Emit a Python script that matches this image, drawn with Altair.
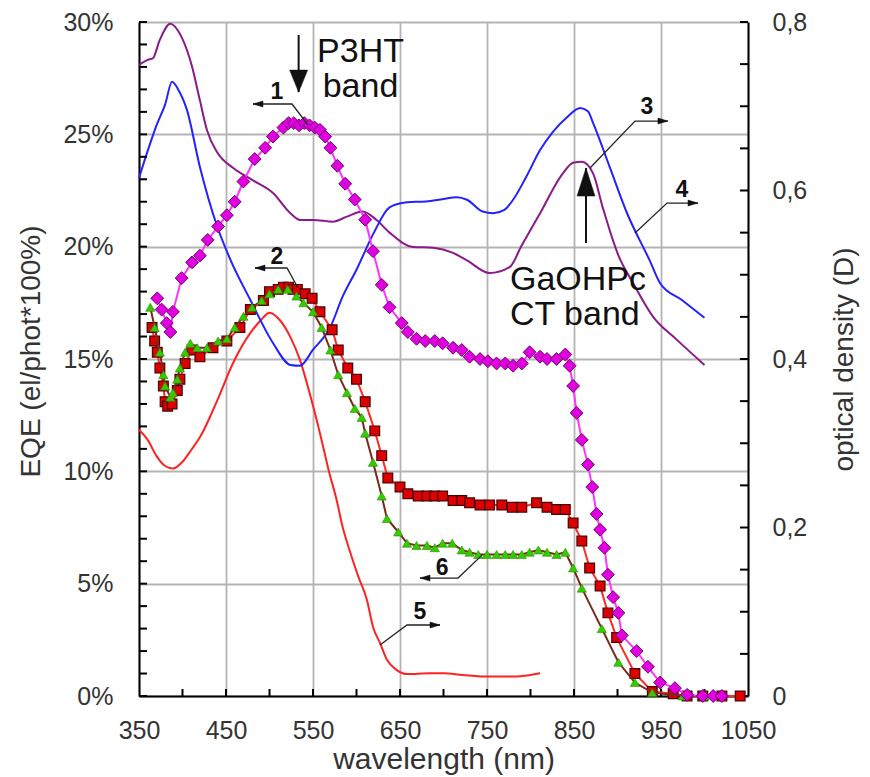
import altair as alt
import pandas as pd

# ---------------- data ----------------
# curve 1: magenta diamonds, EQE (%)
c1_nm = [371, 376, 382, 386, 389, 399, 411, 420, 429, 441, 451, 460, 470, 483, 495, 504, 516,
         522, 528, 534, 540, 546, 552, 558, 564, 570, 578, 587, 598, 610, 619, 629, 638, 652, 659,
         669, 679, 690, 699, 711, 721, 730, 742, 751, 761, 771, 780, 790, 799, 811, 819, 830, 840,
         845, 849, 853, 859, 866, 871, 876, 880, 885, 889, 895, 901, 905, 922, 935, 949, 966, 980,
         998, 1010, 1020]
c1_eqe = [17.7, 17.2, 16.6, 16.2, 17.1, 18.6, 19.3, 19.6, 20.3, 20.9, 21.4, 22.0, 22.9, 23.9, 24.4,
          24.9, 25.3, 25.5, 25.5, 25.4, 25.5, 25.4, 25.3, 25.2, 24.9, 24.4, 23.6, 22.8, 22.1, 21.2,
          19.8, 18.3, 17.3, 16.6, 16.2, 15.9, 15.8, 15.8, 15.7, 15.5, 15.4, 15.1, 15.0, 14.9, 14.8,
          14.8, 14.7, 14.8, 15.3, 15.1, 15.0, 15.0, 15.2, 14.7, 13.8, 12.6, 11.4, 10.3, 9.3, 8.1,
          7.4, 6.6, 5.4, 4.4, 3.7, 2.7, 2.0, 1.3, 0.6, 0.35, 0.05, 0.0, 0.0, 0.0]

# curve 2: red squares, EQE (%)
c2_nm = [365, 368, 371, 374, 378, 380, 383, 388, 394, 397, 403, 411, 420, 435, 451, 466, 478, 493,
         500, 510, 516, 522, 527, 532, 541, 549, 558, 572, 579, 590, 600, 610, 621, 629, 636, 650,
         659, 671, 681, 690, 699, 711, 721, 730, 742, 753, 767, 779, 790, 807, 819, 830, 840, 849,
         859, 868, 880, 889, 899, 920, 940, 964, 980, 998, 1020, 1041]
c2_eqe = [16.4, 15.8, 15.3, 14.6, 13.8, 13.1, 12.9, 13.0, 13.6, 14.1, 14.8, 15.4, 15.1, 15.5, 15.8,
          16.4, 17.2, 17.6, 18.0, 18.1, 18.2, 18.2, 18.1, 18.1, 17.9, 17.7, 17.1, 16.3, 15.4, 14.6,
          14.1, 13.1, 11.8, 10.7, 9.7, 9.3, 9.0, 8.9, 8.9, 8.9, 8.9, 8.7, 8.7, 8.6, 8.5, 8.5, 8.5,
          8.4, 8.4, 8.6, 8.4, 8.3, 8.3, 7.7, 6.9, 5.7, 4.9, 3.7, 2.6, 1.0, 0.2, 0.1, 0.0, 0.0, 0.0,
          0.0]

# curve 6: green triangles, EQE (%)
c6_nm = [363, 368, 374, 378, 380, 386, 389, 394, 397, 403, 409, 417, 428, 441, 451, 460, 470, 480,
         491, 500, 510, 521, 531, 539, 550, 560, 570, 579, 589, 598, 606, 610, 619, 629, 635, 648,
         658, 669, 681, 690, 699, 710, 721, 730, 740, 750, 761, 771, 780, 790, 799, 809, 819, 830,
         840, 849, 859, 882, 901, 920, 940, 975, 1000]
c6_eqe = [17.3, 16.4, 15.3, 14.3, 13.8, 13.3, 13.5, 14.1, 14.6, 15.3, 15.7, 15.5, 15.5, 15.8, 15.9,
          16.4, 16.9, 17.3, 17.6, 17.9, 18.1, 18.1, 17.8, 17.5, 17.1, 16.4, 15.4, 14.3, 13.5, 12.8,
          12.4, 11.7, 10.4, 8.9, 7.9, 7.3, 6.8, 6.7, 6.7, 6.6, 6.8, 6.8, 6.5, 6.4, 6.3, 6.3, 6.3,
          6.3, 6.3, 6.3, 6.4, 6.5, 6.4, 6.3, 6.4, 5.7, 4.8, 3.0, 1.5, 0.6, 0.15, 0.0, 0.0]

# curve 3: blue, optical density
c3_nm = [350, 360, 370, 380, 388, 395, 405, 420, 440, 455, 478, 504, 524, 535, 550, 570, 584, 600,
         620, 638, 658, 680, 700, 715, 727, 745, 757, 770, 780, 795, 811, 826, 842, 857, 866, 872,
         891, 911, 937, 949, 974, 1000]
c3_od = [0.615, 0.647, 0.677, 0.702, 0.729, 0.72, 0.696, 0.628, 0.557, 0.518, 0.47, 0.419, 0.393,
         0.392, 0.411, 0.438, 0.474, 0.506, 0.55, 0.58, 0.586, 0.587, 0.59, 0.592, 0.589, 0.575,
         0.573, 0.577, 0.589, 0.616, 0.648, 0.67, 0.687, 0.698, 0.694, 0.68, 0.628, 0.573, 0.517,
         0.49, 0.47, 0.449]

# curve 4: purple, optical density
c4_nm = [350, 360, 366, 374, 386, 399, 411, 420, 428, 440, 458, 481, 504, 524, 535, 550, 573, 589,
         607, 623, 638, 665, 688, 711, 727, 753, 776, 790, 811, 837, 849, 859, 872, 883, 901, 918,
         941, 968, 1000]
c4_od = [0.749, 0.755, 0.757, 0.779, 0.798, 0.782, 0.747, 0.707, 0.672, 0.645, 0.627, 0.612, 0.597,
         0.573, 0.565, 0.565, 0.563, 0.569, 0.575, 0.565, 0.55, 0.533, 0.532, 0.526, 0.517, 0.502,
         0.509, 0.535, 0.573, 0.62, 0.633, 0.634, 0.62, 0.58, 0.523, 0.49, 0.45, 0.423, 0.393]

# curve 5: red, optical density
c5_nm = [350, 360, 370, 380, 389, 400, 410, 420, 440, 458, 478, 490, 500, 512, 524, 535, 546, 558,
         568, 578, 583, 592, 602, 612, 619, 627, 635, 646, 658, 684, 700, 722, 753, 780, 800, 811]
c5_od = [0.316, 0.304, 0.285, 0.273, 0.27, 0.278, 0.292, 0.307, 0.351, 0.395, 0.431, 0.446, 0.455,
         0.446, 0.426, 0.399, 0.36, 0.312, 0.268, 0.229, 0.205, 0.173, 0.142, 0.114, 0.082, 0.063,
         0.043, 0.031, 0.026, 0.027, 0.027, 0.025, 0.023, 0.023, 0.025, 0.027]

# axis ticks
x_label_vals = [350, 450, 550, 650, 750, 850, 950, 1050]
x_minor = [400, 450, 500, 550, 600, 650, 700, 750, 800, 850, 900, 950, 1000]
eqe_label_vals = [0, 5, 10, 15, 20, 25, 30]
eqe_minor = list(range(0, 31))
od_label_vals = [0, 0.2, 0.4, 0.6, 0.8]
od_minor = [0, 0.05, 0.1, 0.15, 0.2, 0.25, 0.3, 0.35, 0.4, 0.45, 0.5, 0.55, 0.6, 0.65, 0.7, 0.75, 0.8]

# annotation leaders (in wavelength / EQE units)
lead_id = [1, 1, 1, 2, 2, 2, 3, 3, 3, 4, 4, 4, 5, 5, 5, 6, 6, 6]
lead_ord = [0, 1, 2] * 6
lead_nm = [481.0, 525.9, 544.3, 483.3, 520.1, 532.8, 958.0, 920.1, 868.4,
           992.5, 956.9, 920.1, 696.0, 658.0, 627.0, 673.0, 716.7, 744.3]
lead_v = [26.35, 26.35, 25.41, 19.05, 19.05, 18.16, 25.59, 25.59, 23.50,
          21.94, 21.94, 20.61, 3.16, 3.16, 2.27, 5.25, 5.25, 6.27]
head_left_nm = [481.0, 483.3, 673.0]
head_left_v = [26.35, 19.05, 5.25]
head_right_nm = [958.0, 992.5, 696.0]
head_right_v = [25.59, 21.94, 3.16]
num_txt = ["1", "2", "3", "4", "5", "6"]
num_nm = [508.6, 508.6, 933.9, 974.1, 673.0, 698.3]
num_v = [26.88, 19.54, 26.21, 22.52, 3.74, 5.70]

band_txt = ["P3HT", "band"]
band_nm = [604.6, 604.6]
band_v = [28.22, 26.66]
ct_txt = ["GaOHPc", "CT band"]
ct_nm = [776.4, 776.4]
ct_v = [18.07, 16.51]

p3ht_arrow_nm = [533.5]
p3ht_arrow_top = [29.42]
p3ht_arrow_tip = [26.88]
ct_arrow_nm = [863.8]
ct_arrow_bot = [20.16]
ct_arrow_tip = [23.50]

# ---------------- chart ----------------
W, H = 609, 674
FONT = "Liberation Sans"

xscale = alt.Scale(domain=[350, 1050], nice=False, zero=False)
xaxis = alt.Axis(values=x_label_vals, format="d", ticks=False, grid=True, gridColor="#b4b4b4",
                 gridWidth=1.8, domainColor="black", domainWidth=2, labelFontSize=25, labelPadding=22,
                 labelColor="#333", labelFont=FONT, labelFlush=False, labelOverlap=False,
                 title="wavelength (nm)", titleFont=FONT, titleFontSize=30, titleFontWeight="normal",
                 titleColor="#333", titleX=W / 2, titleY=72, titleBaseline="alphabetic",
                 titleAlign="center")
eqe_scale = alt.Scale(domain=[0, 30], nice=False, zero=False)
eqe_axis = alt.Axis(orient="left", values=eqe_label_vals, labelExpr="datum.value + '%'", ticks=False,
                    grid=True, gridColor="#b4b4b4", gridWidth=1.8, domainColor="black", domainWidth=2,
                    labelFontSize=25, labelPadding=26, labelColor="#333", labelFont=FONT,
                    labelFlush=False, labelOverlap=False,
                    title="EQE (el/phot*100%)", titleFont=FONT, titleFontSize=28,
                    titleFontWeight="normal", titleColor="#333", titleAngle=270, titleX=-108,
                    titleY=H / 2 - 8, titleBaseline="middle", titleAlign="center")
od_scale = alt.Scale(domain=[0, 0.8], nice=False, zero=False)
od_axis = alt.Axis(orient="right", values=od_label_vals,
                   labelExpr="datum.value == 0 ? '0' : replace(format(datum.value, '.1f'), '.', ',')",
                   ticks=False, grid=False, domainColor="black", domainWidth=2, labelFontSize=25,
                   labelPadding=24, labelColor="#333", labelFont=FONT, labelFlush=False,
                   labelOverlap=False,
                   title="optical density (D)", titleFont=FONT, titleFontSize=28,
                   titleFontWeight="normal", titleColor="#333", titleAngle=270, titleX=96,
                   titleY=H / 2, titleBaseline="middle", titleAlign="center")


def X(f="nm"):
    return alt.X(f"{f}:Q", scale=xscale, axis=xaxis)


def YE(f="v"):
    return alt.Y(f"{f}:Q", scale=eqe_scale, axis=eqe_axis)


def YO(f="v"):
    return alt.Y(f"{f}:Q", scale=od_scale, axis=od_axis)


d1 = pd.DataFrame({"nm": c1_nm, "v": c1_eqe})
d2 = pd.DataFrame({"nm": c2_nm, "v": c2_eqe})
d6 = pd.DataFrame({"nm": c6_nm, "v": c6_eqe})
d3 = pd.DataFrame({"nm": c3_nm, "v": c3_od})
d4 = pd.DataFrame({"nm": c4_nm, "v": c4_od})
d5 = pd.DataFrame({"nm": c5_nm, "v": c5_od})

# OD group
od_lines = []
for d, col in [(d5, "#ff2222"), (d4, "#8a1a8a"), (d3, "#2222ff")]:
    od_lines.append(alt.Chart(d).mark_line(color=col, strokeWidth=2, interpolate="monotone")
                    .encode(x=X(), y=YO()))
od_ticks = alt.Chart(pd.DataFrame({"v": od_minor})).mark_rule(color="black", strokeWidth=2).encode(
    y=YO(), x=alt.value(W - 8), x2=alt.value(W))
od_group = alt.layer(*od_lines, od_ticks)

# EQE group
line2 = alt.Chart(d2).mark_line(color="#ff2a2a", strokeWidth=2).encode(x=X(), y=YE())
pts2 = alt.Chart(d2).mark_point(shape="square", size=95, filled=True, fill="#dd0000",
                                stroke="#4a0000", strokeWidth=1.2, opacity=1).encode(x=X(), y=YE())
line6 = alt.Chart(d6).mark_line(color="#7a2a1a", strokeWidth=2).encode(x=X(), y=YE())
pts6 = alt.Chart(d6).mark_point(shape="triangle-up", size=85, filled=True, fill="#33cc00",
                                stroke="#2a8a00", strokeWidth=0.6, opacity=1).encode(x=X(), y=YE())
line1 = alt.Chart(d1).mark_line(color="#ff33ff", strokeWidth=2).encode(x=X(), y=YE())
pts1 = alt.Chart(d1).mark_point(shape="diamond", size=165, filled=True, fill="#e000e0",
                                stroke="#700070", strokeWidth=1, opacity=1).encode(x=X(), y=YE())

left_ticks = alt.Chart(pd.DataFrame({"v": eqe_minor})).mark_rule(color="black", strokeWidth=2).encode(
    y=YE(), x=alt.value(0), x2=alt.value(8))
bottom_ticks = alt.Chart(pd.DataFrame({"nm": x_minor})).mark_rule(color="black", strokeWidth=2).encode(
    x=X(), y=alt.value(H - 7), y2=alt.value(H))

leaders = alt.Chart(pd.DataFrame({"id": lead_id, "ord": lead_ord, "nm": lead_nm, "v": lead_v})) \
    .mark_line(color="#222", strokeWidth=1.3).encode(x=X(), y=YE(), detail="id:N", order="ord:Q")
heads_l = alt.Chart(pd.DataFrame({"nm": head_left_nm, "v": head_left_v})).mark_point(
    shape="M0,0L2,-0.6L2,0.6Z", size=100, filled=True, fill="#111", stroke="#111", strokeWidth=0.5,
    opacity=1).encode(x=X(), y=YE())
heads_r = alt.Chart(pd.DataFrame({"nm": head_right_nm, "v": head_right_v})).mark_point(
    shape="M0,0L-2,-0.6L-2,0.6Z", size=100, filled=True, fill="#111", stroke="#111", strokeWidth=0.5,
    opacity=1).encode(x=X(), y=YE())
nums = alt.Chart(pd.DataFrame({"t": num_txt, "nm": num_nm, "v": num_v})).mark_text(
    font=FONT, fontSize=23, fontWeight="bold", color="#111", baseline="middle", align="center").encode(
    x=X(), y=YE(), text="t:N")

band_text = alt.Chart(pd.DataFrame({"t": band_txt, "nm": band_nm, "v": band_v})).mark_text(
    font=FONT, fontSize=34, color="#111", baseline="alphabetic", align="center").encode(
    x=X(), y=YE(), text="t:N")
ct_text = alt.Chart(pd.DataFrame({"t": ct_txt, "nm": ct_nm, "v": ct_v})).mark_text(
    font=FONT, fontSize=34, color="#111", baseline="alphabetic", align="left").encode(
    x=X(), y=YE(), text="t:N")

p3_df = pd.DataFrame({"nm": p3ht_arrow_nm, "top": p3ht_arrow_top, "tip": p3ht_arrow_tip})
p3_shaft = alt.Chart(p3_df).mark_rule(color="#111", strokeWidth=2).encode(
    x=X(), y=YE("top"), y2=alt.Y2("tip:Q"))
p3_head = alt.Chart(p3_df).mark_point(shape="M0,0L-0.82,-2L0.82,-2Z", size=484, filled=True,
                                      fill="#111", stroke="#111", strokeWidth=0.5, opacity=1).encode(
    x=X(), y=YE("tip"))
ct_df = pd.DataFrame({"nm": ct_arrow_nm, "bot": ct_arrow_bot, "tip": ct_arrow_tip})
ct_shaft = alt.Chart(ct_df).mark_rule(color="#111", strokeWidth=2).encode(
    x=X(), y=YE("bot"), y2=alt.Y2("tip:Q"))
ct_head = alt.Chart(ct_df).mark_point(shape="M0,0L-0.64,2L0.64,2Z", size=784, filled=True,
                                      fill="#111", stroke="#111", strokeWidth=0.5, opacity=1).encode(
    x=X(), y=YE("tip"))

eqe_group = alt.layer(left_ticks, bottom_ticks, line2, pts2, line6, pts6, line1, pts1,
                      leaders, heads_l, heads_r, nums, band_text, ct_text,
                      p3_shaft, p3_head, ct_shaft, ct_head)

chart = alt.layer(od_group, eqe_group).resolve_scale(y="independent").properties(
    width=W, height=H,
    autosize=alt.AutoSizeParams(type="none"),
    padding={"left": 131, "top": 14, "right": 112, "bottom": 80},
).configure_view(stroke=None).configure(background="white")

chart.save("out.html", embed_options={"renderer": "svg", "actions": False})
